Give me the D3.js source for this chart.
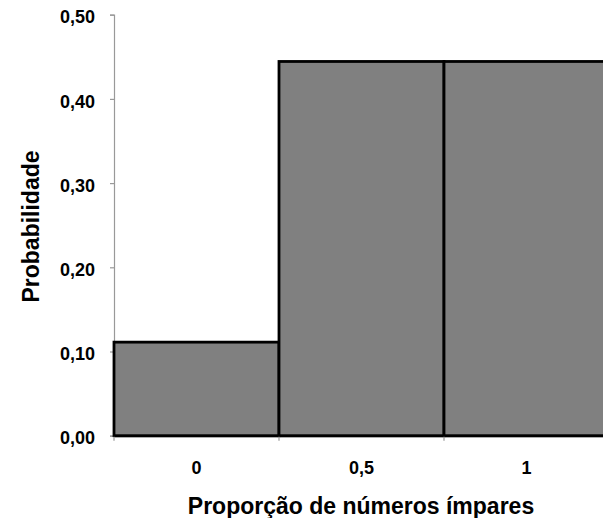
<!DOCTYPE html>
<html><head><meta charset="utf-8">
<script src="https://cdn.jsdelivr.net/npm/d3@7"></script>
<style>
html,body{margin:0;padding:0;background:#fff;overflow:hidden}
text{font-family:"Liberation Sans",Arial,sans-serif;font-weight:bold;fill:#000}
</style></head>
<body>
<script>
const categories = ["0", "0,5", "1"];
const probabilities = [1/9, 4/9, 4/9];
const yTicks = [0, 0.1, 0.2, 0.3, 0.4, 0.5];
const yTickLabels = ["0,00", "0,10", "0,20", "0,30", "0,40", "0,50"];
const xTitle = "Proporção de números ímpares";
const yTitle = "Probabilidade";

const W = 603, H = 518;
const mLeft = 114, mRight = 609, mTop = 14.7, mBottom = 435.7;

const svg = d3.select("body").append("svg").attr("width", W).attr("height", H);

const x = d3.scaleBand().domain(categories).range([mLeft, mRight]).padding(0);
const y = d3.scaleLinear().domain([0, 0.5]).range([mBottom, mTop]);

// y axis
const yAxis = d3.axisLeft(y).tickValues(yTicks).tickFormat((d, i) => yTickLabels[i]).tickSize(4).tickPadding(15);
const gy = svg.append("g").attr("transform", `translate(${mLeft},0)`).call(yAxis);
gy.select(".domain").attr("stroke", "#999").attr("stroke-width", 1.2);
gy.selectAll(".tick line").attr("stroke", "#999").attr("stroke-width", 1.2);
gy.selectAll(".tick text").attr("font-size", 18).attr("dy", "0.46em").style("font-family", '"Liberation Sans",Arial,sans-serif').style("font-weight", "bold");

// bars
svg.append("g").selectAll("rect").data(probabilities).join("rect")
  .attr("x", (d, i) => x(categories[i]))
  .attr("y", d => y(d))
  .attr("width", x.bandwidth())
  .attr("height", d => y(0) - y(d))
  .attr("fill", "#808080")
  .attr("stroke", "#000")
  .attr("stroke-width", 2.8);

// x axis
const xAxis = d3.axisBottom(x).tickSize(0).tickPadding(25.5);
const gx = svg.append("g").attr("transform", `translate(0,${mBottom})`).call(xAxis);
gx.select(".domain").attr("stroke", "#000").attr("stroke-width", 2);
gx.selectAll(".tick text").attr("font-size", 18).style("font-family", '"Liberation Sans",Arial,sans-serif').style("font-weight", "bold");
// boundary tick marks
const bounds = categories.map(c => x(c)).concat([mRight]);
svg.append("g").selectAll("line").data(bounds).join("line")
  .attr("x1", d => d).attr("x2", d => d)
  .attr("y1", mBottom + 1).attr("y2", mBottom + 5)
  .attr("stroke", "#999").attr("stroke-width", 1.2);

// titles
svg.append("text").attr("x", 361).attr("y", 514).attr("text-anchor", "middle")
  .attr("font-size", 23).text(xTitle);
svg.append("text").attr("transform", "translate(39,226.5) rotate(-90)").attr("text-anchor", "middle")
  .attr("font-size", 23).text(yTitle);
</script>
</body></html>
